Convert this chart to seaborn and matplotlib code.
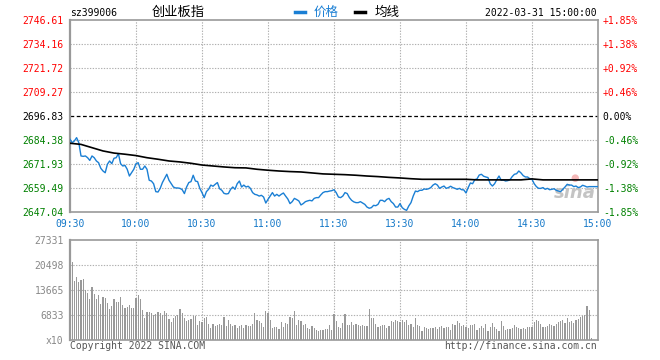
import matplotlib
matplotlib.use("Agg")
import matplotlib.pyplot as plt
from matplotlib.lines import Line2D
import seaborn as sns
import pandas as pd

# ---------------- data ----------------
minutes = list(range(241))
time_ticks = [0, 30, 60, 90, 120, 150, 180, 210, 240]
time_labels = ["09:30", "10:00", "10:30", "11:00", "11:30", "13:30", "14:00", "14:30", "15:00"]

price = [
    2684.7, 2683.0, 2683.9, 2685.6, 2683.0, 2676.1, 2675.9, 2676.1, 2675.2, 2673.8,
    2676.1, 2675.2, 2673.5, 2672.6, 2669.7, 2668.3, 2667.4, 2671.8, 2673.5, 2672.1,
    2674.9, 2675.2, 2677.3, 2672.1, 2670.9, 2671.2, 2669.2, 2665.7, 2667.4, 2669.2,
    2672.1, 2672.6, 2669.2, 2669.2, 2670.9, 2669.2, 2663.5, 2663.1, 2661.7, 2657.6,
    2657.4, 2659.3, 2662.3, 2664.5, 2666.6, 2663.5, 2661.7, 2660.0, 2659.5, 2659.5,
    2659.3, 2658.6, 2656.6, 2660.0, 2662.3, 2662.8, 2666.1, 2663.1, 2662.8, 2659.3,
    2657.1, 2654.5, 2657.6, 2658.8, 2661.0, 2660.4, 2661.4, 2662.3, 2659.1, 2658.3,
    2656.7, 2656.4, 2656.6, 2658.8, 2660.0, 2658.8, 2661.7, 2663.1, 2660.0, 2661.0,
    2660.0, 2660.4, 2659.3, 2657.1, 2656.2, 2655.9, 2655.3, 2655.7, 2654.8, 2651.7,
    2653.6, 2655.3, 2657.1, 2655.3, 2656.2, 2655.3, 2656.2, 2656.9, 2655.3, 2653.8,
    2651.4, 2652.4, 2654.1, 2653.5, 2652.8, 2650.7, 2651.4, 2652.4, 2652.8, 2653.1,
    2652.8, 2654.1, 2654.5, 2654.5, 2655.9, 2657.1, 2657.6, 2657.6, 2657.9, 2658.1,
    2658.6, 2657.1, 2654.8, 2654.5, 2655.3, 2657.1, 2656.6, 2654.5, 2653.1, 2652.3,
    2651.9, 2651.9, 2652.4, 2651.7, 2651.0, 2649.6, 2649.0, 2649.3, 2650.5, 2650.3,
    2651.0, 2653.1, 2653.1, 2652.4, 2653.6, 2654.1, 2652.4, 2651.4, 2649.6, 2649.6,
    2651.4, 2649.3, 2648.4, 2647.9, 2650.2, 2651.9, 2655.3, 2657.9, 2657.6, 2658.3,
    2658.3, 2659.0, 2658.8, 2659.1, 2659.7, 2661.0, 2661.7, 2661.0, 2659.3, 2660.0,
    2660.5, 2659.3, 2659.7, 2660.4, 2659.7, 2659.3, 2658.8, 2659.3, 2658.6, 2658.5,
    2656.9, 2659.7, 2662.1, 2661.7, 2663.8, 2664.2, 2666.2, 2666.6, 2665.6, 2665.2,
    2664.9, 2661.7, 2660.5, 2661.7, 2663.8, 2665.7, 2663.5, 2663.6, 2663.1, 2663.3,
    2663.8, 2665.4, 2666.6, 2666.9, 2668.3, 2667.3, 2665.9, 2665.2, 2665.2, 2664.3,
    2664.0, 2661.7, 2660.2, 2659.3, 2659.3, 2659.7, 2658.8, 2659.3, 2658.6, 2658.8,
    2659.1, 2658.3, 2657.9, 2657.6, 2658.8, 2660.0, 2661.4, 2661.0, 2661.0, 2660.2,
    2660.5, 2659.7, 2660.0, 2660.9, 2660.5, 2660.0, 2660.2, 2660.2, 2660.2, 2660.2, 2660.2,
]

avg_minutes = [0, 5, 10, 15, 20, 25, 30, 35, 40, 45, 50, 55, 60, 65, 70, 75, 80, 85, 90, 95,
               100, 105, 110, 115, 120, 125, 130, 135, 140, 145, 150, 155, 160, 165, 170, 175,
               180, 185, 190, 195, 200, 205, 210, 215, 220, 225, 230, 235, 240]
avg_price = [2682.7, 2682.1, 2680.4, 2678.7, 2677.6, 2677.0, 2676.3, 2675.2, 2674.4, 2673.5,
             2673.0, 2672.3, 2671.4, 2670.9, 2670.4, 2670.0, 2669.9, 2669.2, 2668.7, 2668.3,
             2668.0, 2667.8, 2667.3, 2666.8, 2666.6, 2666.4, 2666.1, 2665.7, 2665.4, 2665.0,
             2664.7, 2664.3, 2664.0, 2664.0, 2664.0, 2664.0, 2664.0, 2663.7, 2663.7, 2663.7,
             2663.7, 2663.7, 2664.2, 2663.7, 2663.7, 2663.7, 2663.7, 2663.7, 2663.7]

volume = [
    27331, 21317, 16125, 17218, 15851, 16398, 16671, 13665, 12754, 11205,
    14485, 12572, 11296, 12299, 9839, 11752, 11479, 10112, 8472, 9383,
    11205, 10385, 10385, 11661, 9474, 8746, 9019, 9566, 8746, 8746,
    11388, 12299, 11205, 8199, 6013, 7652, 7652, 7379, 6833, 7106,
    7652, 7379, 6833, 7926, 7379, 5739, 4919, 6013, 6559, 6833,
    8472, 7379, 6013, 5193, 5466, 5739, 6559, 6559, 4100, 5193,
    4919, 6013, 6286, 4373, 3280, 4373, 3826, 4100, 4373, 4100,
    6286, 3826, 5466, 4373, 3826, 4100, 3280, 3826, 4100, 3280,
    4008, 3826, 3826, 4373, 7379, 5466, 5284, 4737, 3553, 7926,
    7470, 5466, 3189, 3553, 3553, 3006, 4919, 3553, 4646, 4373,
    6286, 6013, 7926, 4100, 5466, 5193, 4100, 4373, 3280, 3006,
    3826, 3280, 2733, 2460, 2733, 2733, 3006, 3006, 4100, 2733,
    7106, 5193, 3553, 3280, 4646, 7106, 4100, 4100, 4919, 4100,
    4373, 4100, 3826, 4100, 3826, 3826, 8472, 6013, 6013, 4373,
    3553, 3826, 4100, 4100, 3280, 3826, 5193, 4919, 5466, 5193,
    4919, 5466, 4919, 5466, 4100, 4373, 3553, 6013, 4100, 3826,
    2460, 3553, 3280, 3006, 3280, 3280, 3553, 3006, 3553, 3826,
    3280, 3553, 3553, 2733, 4373, 4100, 5193, 4646, 3826, 4100,
    3553, 3280, 4100, 4100, 4373, 2733, 3280, 3826, 3280, 4373,
    2460, 3553, 4646, 3553, 3006, 2460, 5193, 3826, 2733, 3006,
    3006, 3280, 4100, 3553, 3280, 3006, 3280, 3006, 3553, 3553,
    3553, 4919, 5466, 5193, 4373, 3553, 3553, 3826, 4373, 4100,
    3826, 4373, 4919, 5193, 5466, 4646, 6013, 4919, 5193, 4646,
    5466, 5739, 6286, 6559, 6833, 9292, 8199, 547, 0, 0, 0,
]

prev_close = 2696.83
price_levels = [2647.04, 2659.49, 2671.93, 2684.38, 2696.83, 2709.27, 2721.72, 2734.16, 2746.61]
pct_labels = ["-1.85%", "-1.38%", "-0.92%", "-0.46%", "0.00%", "+0.46%", "+0.92%", "+1.38%", "+1.85%"]
vol_levels = [0, 6833, 13665, 20498, 27331]
vol_labels = ["x10", "6833", "13665", "20498", "27331"]

title_code = "sz399006"
title_name = "创业板指"
legend_price = "价格"
legend_avg = "均线"
stamp = "2022-03-31 15:00:00"
copyright_txt = "Copyright 2022 SINA.COM"
url_txt = "http://finance.sina.com.cn"

# ---------------- style ----------------
BLUE = "#1a7fd4"
TICKBLUE = "#1478c8"
RED = "#ff0000"
GREEN = "#008000"
FRAME = "#999999"
GRID = "#b0b0b0"
MONO = "DejaVu Sans Mono"
CJK = ["Noto Sans CJK SC", "DejaVu Sans"]

W, H = 660, 360
fig = plt.figure(figsize=(W / 100, H / 100), dpi=100)
fig.patch.set_facecolor("white")


def rect(l, t, r, b):
    return [l / W, 1 - b / H, (r - l) / W, (b - t) / H]


ax = fig.add_axes(rect(70, 20, 598, 212))
axv = fig.add_axes(rect(70, 240, 598, 340))

df = pd.DataFrame({"minute": minutes, "price": price, "volume": volume})
dfa = pd.DataFrame({"minute": avg_minutes, "avg": avg_price})

# price panel grid
for lv in price_levels[1:-1]:
    if lv == prev_close:
        ax.axhline(lv, color="black", lw=0.9, dashes=(3, 2), zorder=1)
    else:
        ax.axhline(lv, color=GRID, lw=0.8, dashes=(1.2, 1.3), zorder=1)
for t in time_ticks[1:-1]:
    ax.axvline(t, color=GRID, lw=0.8, dashes=(1.2, 1.3), zorder=1)

# watermark
ax.text(0.995, 0.10, "sina", transform=ax.transAxes, ha="right", va="center",
        fontsize=13, style="italic", weight="bold", color="#c4c4c4", zorder=2)
ax.text(0.955, 0.175, "●", transform=ax.transAxes, ha="center", va="center",
        fontsize=7, color="#f4b8b8", zorder=2)

sns.lineplot(data=df, x="minute", y="price", ax=ax, color=BLUE, lw=1.0, errorbar=None, zorder=3)
sns.lineplot(data=dfa, x="minute", y="avg", ax=ax, color="black", lw=1.2, errorbar=None, zorder=4)

ax.set_xlim(0, 240)
ax.set_ylim(price_levels[0], price_levels[-1])
ax.set_xlabel("")
ax.set_ylabel("")
ax.set_yticks(price_levels)
ax.set_yticklabels([f"{v:.2f}" for v in price_levels], family=MONO, fontsize=7)
for lab, v in zip(ax.get_yticklabels(), price_levels):
    lab.set_color(RED if v > prev_close else ("black" if v == prev_close else GREEN))
ax.set_xticks(time_ticks)
ax.set_xticklabels(time_labels, family=MONO, fontsize=7, color=TICKBLUE)
ax.tick_params(axis="both", length=0)
ax.tick_params(axis="y", pad=4.5)
ax.tick_params(axis="x", pad=5)
for s in ax.spines.values():
    s.set_color(FRAME)
    s.set_linewidth(1.2)
ax.spines["left"].set_linewidth(1.6)

axr = ax.twinx()
axr.set_ylim(price_levels[0], price_levels[-1])
axr.set_yticks(price_levels)
axr.set_yticklabels(pct_labels, family=MONO, fontsize=7)
for lab, v in zip(axr.get_yticklabels(), price_levels):
    lab.set_color(RED if v > prev_close else ("black" if v == prev_close else GREEN))
axr.tick_params(axis="y", length=0, pad=3.5)
for s in axr.spines.values():
    s.set_visible(False)

# volume panel
for lv in vol_levels[1:-1]:
    axv.axhline(lv, color=GRID, lw=0.8, dashes=(1.2, 1.3), zorder=1)
for t in time_ticks[1:-1]:
    axv.axvline(t, color=GRID, lw=0.8, dashes=(1.2, 1.3), zorder=1)
sns.barplot(data=df, x="minute", y="volume", ax=axv, native_scale=True, color="#999999",
            saturation=1, width=0.5, errorbar=None, linewidth=0, zorder=2)
axv.set_xlim(0, 240)
axv.set_ylim(0, vol_levels[-1])
axv.set_xlabel("")
axv.set_ylabel("")
axv.set_xticks([])
axv.set_yticks(vol_levels)
axv.set_yticklabels(vol_labels, family=MONO, fontsize=7, color="#888888")
axv.tick_params(axis="y", length=0, pad=4.5)
for s in axv.spines.values():
    s.set_color(FRAME)
    s.set_linewidth(1.2)
axv.spines["left"].set_linewidth(1.6)

# header texts
fig.text(70 / W, 1 - 13 / H, title_code, family=MONO, fontsize=7, ha="left", va="center")
fig.text(152 / W, 1 - 12.5 / H, title_name, family=CJK, fontsize=9.5, ha="left", va="center")
fig.add_artist(Line2D([295 / W, 305 / W], [1 - 12 / H] * 2, color=BLUE, lw=2.5))
fig.text(314 / W, 1 - 12.5 / H, legend_price, family=CJK, fontsize=9, color=BLUE, ha="left", va="center")
fig.add_artist(Line2D([355 / W, 365 / W], [1 - 12 / H] * 2, color="black", lw=2.5))
fig.text(375 / W, 1 - 12.5 / H, legend_avg, family=CJK, fontsize=9, color="black", ha="left", va="center")
fig.text(597 / W, 1 - 13 / H, stamp, family=MONO, fontsize=7, ha="right", va="center")

# footer texts
fig.text(70 / W, 1 - 346 / H, copyright_txt, family=MONO, fontsize=7, color="#555555", ha="left", va="center")
fig.text(597 / W, 1 - 346 / H, url_txt, family=MONO, fontsize=7, color="#555555", ha="right", va="center")

fig.savefig("out.png", dpi=100, facecolor="white")
